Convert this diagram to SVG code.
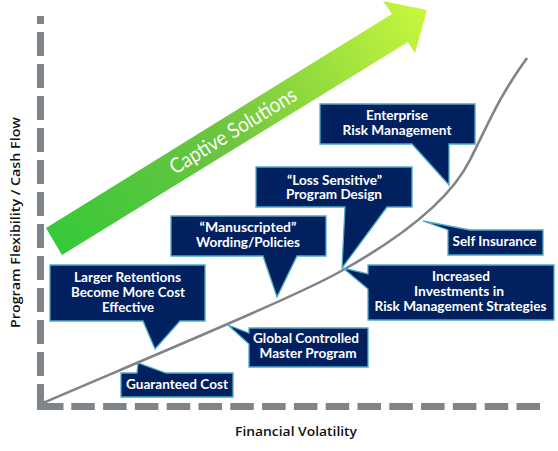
<svg xmlns="http://www.w3.org/2000/svg" width="558" height="451" viewBox="0 0 558 451">
<defs>
<linearGradient id="gArrow" gradientUnits="userSpaceOnUse" x1="54" y1="241" x2="427" y2="10">
<stop offset="0" stop-color="#36c93a"/>
<stop offset="0.45" stop-color="#6cc540"/>
<stop offset="1" stop-color="#c8f83d"/>
</linearGradient>
<style>
.axis{fill:none;stroke:#7f8489;stroke-width:7}
.curve{fill:none;stroke:#808488;stroke-width:2.6;stroke-linejoin:round}
.box{fill:#002060;stroke:#4bacc6;stroke-width:1.3;stroke-linejoin:miter}
.lbl{font-family:Lato,"Open Sans","Liberation Sans",sans-serif;font-weight:700;font-size:12.5px;fill:#ffffff;text-anchor:middle}
.ax{font-family:"Open Sans","Liberation Sans",sans-serif;font-weight:600;font-size:13px;fill:#111111;text-anchor:middle}
</style>
</defs>
<rect width="558" height="451" fill="#ffffff"/>
<g id="axes">
<line class="axis" x1="40.5" y1="16" x2="40.5" y2="408" stroke-dasharray="24 8" stroke-dashoffset="16"/>
<line class="axis" x1="37" y1="406.5" x2="543" y2="406.5" stroke-dasharray="26.5 7.8 23.5 8.3 23.5 8.3 23.5 8.3 23.5 8.3 23.5 8.3 23.5 8.3 23.5 8.3 23.5 8.3 23.5 8.3 23.5 8.3 23.5 8.3 23.5 8.3 23.5 8.3 23.5 8.3 23.5 8.3"/>
<text class="ax" transform="translate(19.5,222.5) rotate(-90)" x="0" y="0" textLength="211" lengthAdjust="spacingAndGlyphs">Program Flexibility / Cash Flow</text>
<text class="ax" x="296" y="435.5" textLength="122" lengthAdjust="spacingAndGlyphs">Financial Volatility</text>
</g>
<g id="captive-arrow">
<polygon points="46,228 392,14 383,1 427,10 415,53 408,42 62,255" fill="url(#gArrow)"/>
<text transform="translate(233,131) rotate(-31.7)" x="0" y="7" font-family="Lato,'Open Sans',sans-serif" font-size="21" fill="#ffffff" text-anchor="middle" textLength="145" lengthAdjust="spacingAndGlyphs">Captive Solutions</text>
</g>
<g id="connectors">
<path class="curve" d="M43,403 C150,357 300,295 343,270 C400,238 450,200 470,160 C490,120 500,95 527,58"/>
</g>
<g id="enterprise-risk-management">
<path class="box" d="M320,104 H475 V144 H449 L449,185 L412,144 H320 Z"/>
<text class="lbl" x="397" y="120" textLength="62" lengthAdjust="spacingAndGlyphs">Enterprise</text>
<text class="lbl" x="397" y="135" textLength="109" lengthAdjust="spacingAndGlyphs">Risk Management</text>
</g>
<g id="loss-sensitive">
<path class="box" d="M256,167 H412 V207 H387 L342,268 L345,207 H256 Z"/>
<text class="lbl" x="334.5" y="184.5" textLength="95" lengthAdjust="spacingAndGlyphs">“Loss Sensitive”</text>
<text class="lbl" x="334" y="199" textLength="96" lengthAdjust="spacingAndGlyphs">Program Design</text>
</g>
<g id="manuscripted">
<path class="box" d="M171,216 H326 V256 H297 L277,297 L263,256 H171 Z"/>
<text class="lbl" x="248" y="232" textLength="97" lengthAdjust="spacingAndGlyphs">“Manuscripted”</text>
<text class="lbl" x="248" y="246.5" textLength="104" lengthAdjust="spacingAndGlyphs">Wording/Policies</text>
</g>
<g id="larger-retentions">
<path class="box" d="M50,265 H205 V321 H180 L155,349 L143,321 H50 Z"/>
<text class="lbl" x="127.5" y="281.5" textLength="107" lengthAdjust="spacingAndGlyphs">Larger Retentions</text>
<text class="lbl" x="128" y="296.5" textLength="114" lengthAdjust="spacingAndGlyphs">Become More Cost</text>
<text class="lbl" x="128" y="311.5" textLength="52" lengthAdjust="spacingAndGlyphs">Effective</text>
</g>
<g id="guaranteed-cost">
<path class="box" d="M121,373 H137 L138,363 L166,373 H233 V397 H121 Z"/>
<text class="lbl" x="177" y="388.5" textLength="102" lengthAdjust="spacingAndGlyphs">Guaranteed Cost</text>
</g>
<g id="global-controlled">
<path class="box" d="M249,328 H368 V367 H249 V344 L228,325 L249,333 Z"/>
<text class="lbl" x="306" y="342.5" textLength="106" lengthAdjust="spacingAndGlyphs">Global Controlled</text>
<text class="lbl" x="308" y="357.5" textLength="97" lengthAdjust="spacingAndGlyphs">Master Program</text>
</g>
<g id="increased-investments">
<path class="box" d="M368,265 H554 V320 H368 V289 L343,268 L368,274 Z"/>
<text class="lbl" x="461" y="281" textLength="58" lengthAdjust="spacingAndGlyphs">Increased</text>
<text class="lbl" x="459" y="296" textLength="90" lengthAdjust="spacingAndGlyphs">Investments in</text>
<text class="lbl" x="460.5" y="311" textLength="172" lengthAdjust="spacingAndGlyphs">Risk Management Strategies</text>
</g>
<g id="self-insurance">
<path class="box" d="M448,255 V230 L423,221 L470,230 H543 V255 Z"/>
<text class="lbl" x="494.5" y="245.5" textLength="84" lengthAdjust="spacingAndGlyphs">Self Insurance</text>
</g>
</svg>
